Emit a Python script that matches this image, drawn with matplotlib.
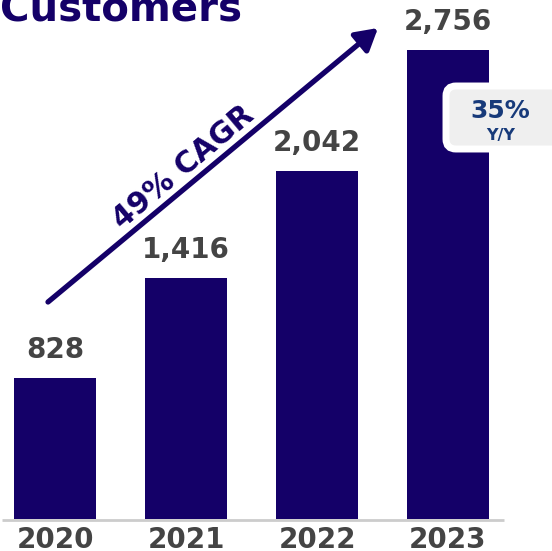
import numpy as np
import matplotlib.pyplot as plt
from matplotlib.patches import FancyBboxPatch

years = ['2020', '2021', '2022', '2023']
customers = [828, 1416, 2042, 2756]
value_labels = ['828', '1,416', '2,042', '2,756']

navy = '#140068'
grey = '#444444'

plt.rcParams['font.family'] = ['DejaVu Sans']

fig = plt.figure(figsize=(5.52, 5.51), dpi=100)
ax = fig.add_axes([0, 0, 1, 1])

x = np.arange(len(years))
ax.bar(x, customers, width=0.626, color=navy, zorder=2)

# axis limits chosen so bars sit where they do in the slide
ax.set_xlim(-0.42, 3.794)
ax.set_ylim(-188, 3049)
ax.axis('off')

# baseline
ax.plot([-0.405, 3.43], [-8, -8], color='#cccccc', lw=2, zorder=1, solid_capstyle='butt')

for xi, v, lab in zip(x, customers, value_labels):
    ax.annotate(lab, xy=(xi, v), xytext=(0, 14.5), textcoords='offset points',
                ha='center', va='baseline', fontsize=20, fontweight='bold', color=grey)
    ax.annotate(years[xi], xy=(xi, 0), xytext=(0, -21), textcoords='offset points',
                ha='center', va='baseline', fontsize=20, fontweight='bold', color=grey)

# title (cropped at the top in the original)
fig.text(0.0, 1 - 22 / 551, 'Customers', ha='left', va='baseline',
         fontsize=29, fontweight='bold', color=navy)

# CAGR arrow
ax.annotate('', xy=(378 / 552, 1 - 28 / 551), xycoords='figure fraction',
            xytext=(48 / 552, 1 - 302 / 551), textcoords='figure fraction',
            arrowprops=dict(arrowstyle='-|>,head_length=1.3,head_width=0.75',
                            color=navy, lw=3.8, shrinkA=0, shrinkB=0))
fig.text(183 / 552, 1 - 167 / 551, '49% CAGR', rotation=40, rotation_mode='anchor',
         ha='center', va='center', fontsize=21.5, fontweight='bold', color=navy)

# Y/Y badge
badge = FancyBboxPatch((446 / 552, 1 - 149 / 551), 120 / 552, 63 / 551,
                       boxstyle='round,pad=0,rounding_size=0.018',
                       transform=fig.transFigure, facecolor='#efefef',
                       edgecolor='white', linewidth=5, zorder=5)
fig.patches.append(badge)
fig.text(500 / 552, 1 - 118 / 551, '35%', ha='center', va='baseline',
         fontsize=18, fontweight='bold', color='#173a7a', zorder=6)
fig.text(501 / 552, 1 - 140 / 551, 'Y/Y', ha='center', va='baseline',
         fontsize=11.5, fontweight='bold', color='#173a7a', zorder=6)

plt.savefig('out.png', dpi=100)
